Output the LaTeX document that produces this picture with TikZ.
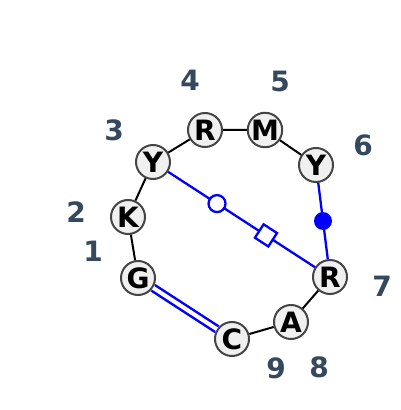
\documentclass[tikz,border=0pt]{standalone}
\usepackage{fontspec}
\setmainfont{DejaVu Sans}
\definecolor{numcol}{HTML}{34495E}
\definecolor{basefill}{HTML}{F0F0F0}
\definecolor{baseedge}{HTML}{444444}

\begin{document}
\begin{tikzpicture}[x=1pt, y=1pt, base/.style={ circle, draw=baseedge,
    fill=basefill, line width=2pt, minimum size=34pt, inner sep=0pt,
    font=\fontsize{28}{28}\selectfont\bfseries }, index/.style={
    text=numcol, font=\fontsize{28}{28}\selectfont\bfseries },
    backbone/.style={ draw=black, line width=2pt }, pair/.style={
    draw=blue, line width=2.3pt }, dot/.style={ circle, fill=blue,
    minimum size=18pt, inner sep=0pt }, ring/.style={ circle, draw=blue,
    fill=white, line width=2.3pt, minimum size=17pt, inner sep=0pt },
    box/.style={ rectangle, draw=blue, fill=white, line width=2.3pt,
    minimum size=16pt, inner sep=0pt } ]
  \useasboundingbox (0,0) rectangle (400,410);
  \foreach \x/\y/\l/\i in {138/132/G/1,128/193/K/2,153/248/Y/3,205/280/R/4,
    265/280/M/5,316/245/Y/6,330/133/R/7,291/88/A/8,232/71/C/9}
  \node[base] (a\i) at (\x,\y) {\l};
  \foreach \x/\y/\i in {93/159/1,76/198/2,114/280/3,190/330/4,280/329/5,
    363/265/6,382/124/7,319/43/8,276/42/9}
  \node[index] (n\i) at (\x,\y) {\i};
  \draw[backbone] (a1) -- (a2) -- (a3) -- (a4) -- (a5) -- (a6);
  \draw[backbone] (a7) -- (a8) -- (a9);
  \draw[pair] (a6) -- node[dot] {} (a7);
  \draw[pair] (a3) -- node[pos=1/3,ring] {} node[pos=2/3,sloped,box] {} (a7);
  \draw[pair,double=white,line width=2.5pt,double distance=4pt] (a9) -- (a1);
\end{tikzpicture}
\end{document}
